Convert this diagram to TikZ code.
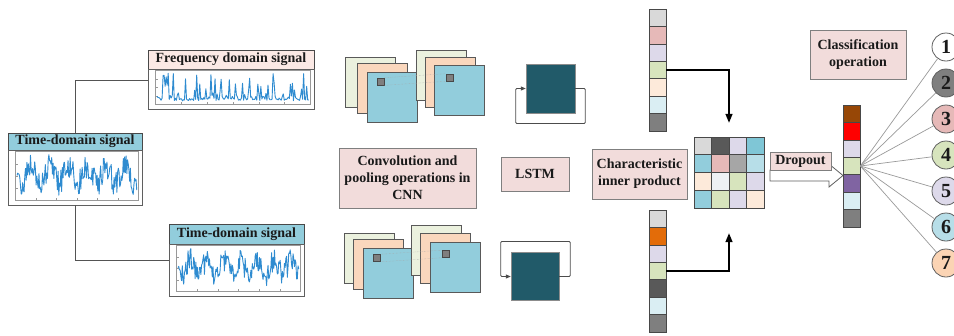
\documentclass[tikz,border=0pt]{standalone}
\usepackage{fontspec}
\setmainfont{Liberation Serif}
\usepackage{xcolor}
\usetikzlibrary{arrows.meta,calc}
\definecolor{ink}{HTML}{1A1A1A}
\definecolor{boxline}{HTML}{7F7F7F}
\definecolor{boxpink}{HTML}{F2DCDB}
\definecolor{titleblue}{HTML}{92CDDC}
\definecolor{titlepink}{HTML}{FBE9E5}
\definecolor{sigblue}{HTML}{2E8BD0}
\definecolor{mapgreen}{HTML}{EBF1DE}
\definecolor{mappeach}{HTML}{FAD7BD}
\definecolor{mapblue}{HTML}{92CDDC}
\definecolor{mapline}{HTML}{595959}
\definecolor{lstmteal}{HTML}{215A69}
\definecolor{lgray}{HTML}{D9D9D9}
\definecolor{dgray}{HTML}{595959}
\definecolor{mgray}{HTML}{7F7F7F}
\definecolor{sgray}{HTML}{A6A6A6}
\definecolor{pinkc}{HTML}{E6B9B8}
\definecolor{lavc}{HTML}{DDD9EA}
\definecolor{greenc}{HTML}{D7E4BD}
\definecolor{peachc}{HTML}{FDEADA}
\definecolor{cyanc}{HTML}{DAEEF3}
\definecolor{tealc}{HTML}{7FC6D6}
\definecolor{bluec}{HTML}{92CDDC}
\definecolor{skyc}{HTML}{B7DEE8}
\definecolor{whitec}{HTML}{EEF1F4}
\definecolor{orangec}{HTML}{E36C09}
\definecolor{brownc}{HTML}{974706}
\definecolor{redc}{HTML}{FF0000}
\definecolor{purplec}{HTML}{8064A2}
\definecolor{apricot}{HTML}{FBD4B4}
\tikzset{
  >=Triangle,
  every node/.style={font=\fontsize{14}{17}\selectfont\bfseries,text=ink},
  textbox/.style={draw=boxline,fill=boxpink,align=center,inner sep=0pt,line width=0.8pt},
  paneltitle/.style={draw=ink!80,inner sep=0pt,line width=0.8pt},
  panelplot/.style={draw=ink!70,fill=white,inner sep=0pt,line width=0.8pt},
  axesframe/.style={draw=gray!80,line width=0.4pt},
  fmap/.style={draw=mapline,minimum size=50pt,inner sep=0pt,line width=0.6pt},
  kernel/.style={draw=ink!80,fill=mgray,minimum size=7pt,inner sep=0pt,line width=0.6pt},
  kernlink/.style={draw=gray!70,line width=0.4pt,densely dotted},
  lstmcell/.style={draw=ink!50,fill=lstmteal,inner sep=0pt},
  recur/.style={-{Triangle[length=5pt,width=4pt]},draw=gray!60!black,line width=0.8pt,rounded corners=1pt},
  veccell/.style={draw=ink!80,minimum width=17pt,minimum height=17.43pt,inner sep=0pt,line width=0.6pt},
  matcell/.style={draw=ink!80,minimum width=17.5pt,minimum height=17.75pt,inner sep=0pt,line width=0.6pt},
  link/.style={draw=ink!75,line width=0.8pt},
  flow/.style={-{Triangle[length=9pt,width=7pt]},draw=black,line width=1.4pt},
  hollow/.style={draw=ink!70,fill=white,line width=0.8pt,line join=miter},
  fan/.style={draw=gray!80,line width=0.7pt},
  classnode/.style={circle,draw=ink!70,minimum size=28pt,inner sep=0pt,font=\fontsize{20}{20}\selectfont\bfseries,line width=0.8pt},
  sig/.style={draw=sigblue,line width=0.9pt,line join=round}
}

\begin{document}
\begin{tikzpicture}[x=1pt,y=-1pt]
  \useasboundingbox (0,0) rectangle (954,335);
  \pgfmathsetseed{11}

  % signal panels
  \node[paneltitle,fill=titleblue,minimum width=134pt,minimum height=17pt] (timelbl) at (75,141.5) {Time-domain signal};
  \node[panelplot,minimum width=134pt,minimum height=55pt] (timeplot) at (75,177.5) {};
  \node[paneltitle,fill=titlepink,minimum width=166pt,minimum height=19pt] (freqlbl) at (231,59.5) {Frequency domain signal};
  \node[panelplot,minimum width=166pt,minimum height=40pt] (freqplot) at (231,89) {};
  \node[paneltitle,fill=titleblue,minimum width=135pt,minimum height=20pt] (lowlbl) at (236.5,234) {Time-domain signal};
  \node[panelplot,minimum width=135pt,minimum height=52pt] (lowplot) at (236.5,270) {};

  \foreach \p in {timeplot,freqplot,lowplot}{
    \coordinate (\p-bl) at ($(\p.south west)+(8,-5)$);
    \coordinate (\p-br) at ($(\p.south east)+(-4,-5)$);
    \draw[axesframe] ($(\p.north west)+(8,2)$) rectangle (\p-br);
    \foreach \f in {0,0.1667,0.3333,0.5,0.6667,0.8333,1}
      \draw[axesframe] ($(\p-bl)!\f!(\p-br)$) -- ++(0,-2);
    \foreach \f in {0.25,0.5,0.75}
      \draw[axesframe] ($(\p-bl)!\f!($(\p.north west)+(8,2)$)$) -- ++(2,0);
  }
  \draw[sig] plot[domain=0:1,samples=170,variable=\t] ({17+120*\t},{175+9*sin(2300*\t)+13*rand});
  \draw[sig] plot[domain=0:1,samples=150,variable=\t] ({157+152*\t},{101-3*rnd-26*rnd^4});
  \draw[sig] plot[domain=0:1,samples=170,variable=\t] ({178+121*\t},{267+8*sin(2600*\t)+12*rand});

  \draw[link] (timelbl.north) |- ([yshift=9pt]freqplot.west);
  \draw[link] (timeplot.south) |- ([yshift=10pt]lowplot.west);

  % feature maps, upper branch
  \node[fmap,fill=mapgreen] (ua1) at (370,82) {};
  \node[fmap,fill=mappeach] (ua2) at (382,88) {};
  \node[fmap,fill=mapblue] (ua3) at (392,97) {};
  \node[fmap,fill=mapgreen] (ub1) at (441,75) {};
  \node[fmap,fill=mappeach] (ub2) at (450,82) {};
  \node[fmap,fill=mapblue] (ub3) at (459.5,90) {};
  \node[kernel] (uk1) at (380.5,81.5) {};
  \node[kernel] (uk2) at (449.5,77.5) {};
  \draw[kernlink] (uk1.north east) -- (uk2.north west);
  \draw[kernlink] (uk1.south east) -- (uk2.south west);

  % feature maps, lower branch
  \node[fmap,fill=mapgreen] (la1) at (369,258) {};
  \node[fmap,fill=mappeach] (la2) at (378,264) {};
  \node[fmap,fill=mapblue] (la3) at (388,273) {};
  \node[fmap,fill=mapgreen] (lb1) at (436,250.5) {};
  \node[fmap,fill=mappeach] (lb2) at (445.5,258) {};
  \node[fmap,fill=mapblue] (lb3) at (455.5,267) {};
  \node[kernel] (lk1) at (377,258) {};
  \node[kernel] (lk2) at (445.5,254) {};
  \draw[kernlink] (lk1.north east) -- (lk2.north west);
  \draw[kernlink] (lk1.south east) -- (lk2.south west);

  % lstm cells
  \node[lstmcell,minimum size=49pt] (lstmA) at (550.5,88.5) {};
  \draw[recur] (lstmA.east) -- ++(10,0) -- ++(0,35) -| ([xshift=-10pt]lstmA.west) -- (lstmA.west);
  \node[lstmcell,minimum size=48pt] (lstmB) at (535,276.5) {};
  \draw[recur] (lstmB.east) -- ++(11,0) -- ++(0,-35) -| ([xshift=-10pt]lstmB.west) -- (lstmB.west);

  % labels
  \node[textbox,minimum width=137pt,minimum height=60pt] (cnnlbl) at (407.5,178) {Convolution and\\pooling operations in\\CNN};
  \node[textbox,minimum width=68pt,minimum height=34pt] (lstmlbl) at (535,174) {LSTM};
  \node[textbox,minimum width=95pt,minimum height=50pt] (charlbl) at (639.5,174) {Characteristic\\inner product};
  \node[textbox,minimum width=96pt,minimum height=49pt] (clslbl) at (858,54.5) {Classification\\operation};

  % feature vectors
  \foreach \c [count=\i] in {lgray,pinkc,lavc,greenc,peachc,cyanc,mgray}
    \node[veccell,fill=\c] (vt\i) at (657.5,{9+17.43*(\i-0.5)}) {};
  \foreach \c [count=\i] in {lgray,orangec,lavc,greenc,dgray,cyanc,mgray}
    \node[veccell,fill=\c] (vb\i) at (657.5,{210+17.43*(\i-0.5)}) {};

  % inner product matrix
  \node[inner sep=0pt,minimum width=70pt,minimum height=71pt] (mat) at (729,172.5) {};
  \foreach \c [count=\k from 0] in {lgray,dgray,lavc,tealc,bluec,pinkc,sgray,skyc,peachc,whitec,greenc,lavc,bluec,greenc,lavc,peachc}{
    \pgfmathtruncatemacro\r{div(\k,4)}
    \pgfmathtruncatemacro\q{mod(\k,4)}
    \node[matcell,fill=\c] (cell-\r-\q) at ({694+17.5*(\q+0.5)},{137+17.75*(\r+0.5)}) {};
  }
  \draw[flow] (vt4.east) -| ([yshift=14pt]mat.north);
  \draw[flow] (vb4.east) -| ([yshift=-25pt]mat.south);

  % dropout
  \draw[hollow] (770,170) -- (829,170) -- (829,164) -- (843,175.5) -- (829,187) -- (829,181) -- (770,181) -- cycle;
  \node[textbox,minimum width=61pt,minimum height=18pt] (droplbl) at (800.5,161) {Dropout};

  % output vector and classes
  \foreach \c [count=\i] in {brownc,redc,lavc,greenc,purplec,cyanc,mgray}
    \node[veccell,fill=\c] (vo\i) at (851.5,{105+17.43*(\i-0.5)}) {};
  \foreach \c [count=\i] in {white,mgray,pinkc,greenc,lavc,skyc,apricot}{
    \node[classnode,fill=\c] (cls\i) at (946,{47+36*(\i-1)}) {\i};
    \draw[fan] (vo4.east) -- (cls\i);
  }
\end{tikzpicture}
\end{document}
